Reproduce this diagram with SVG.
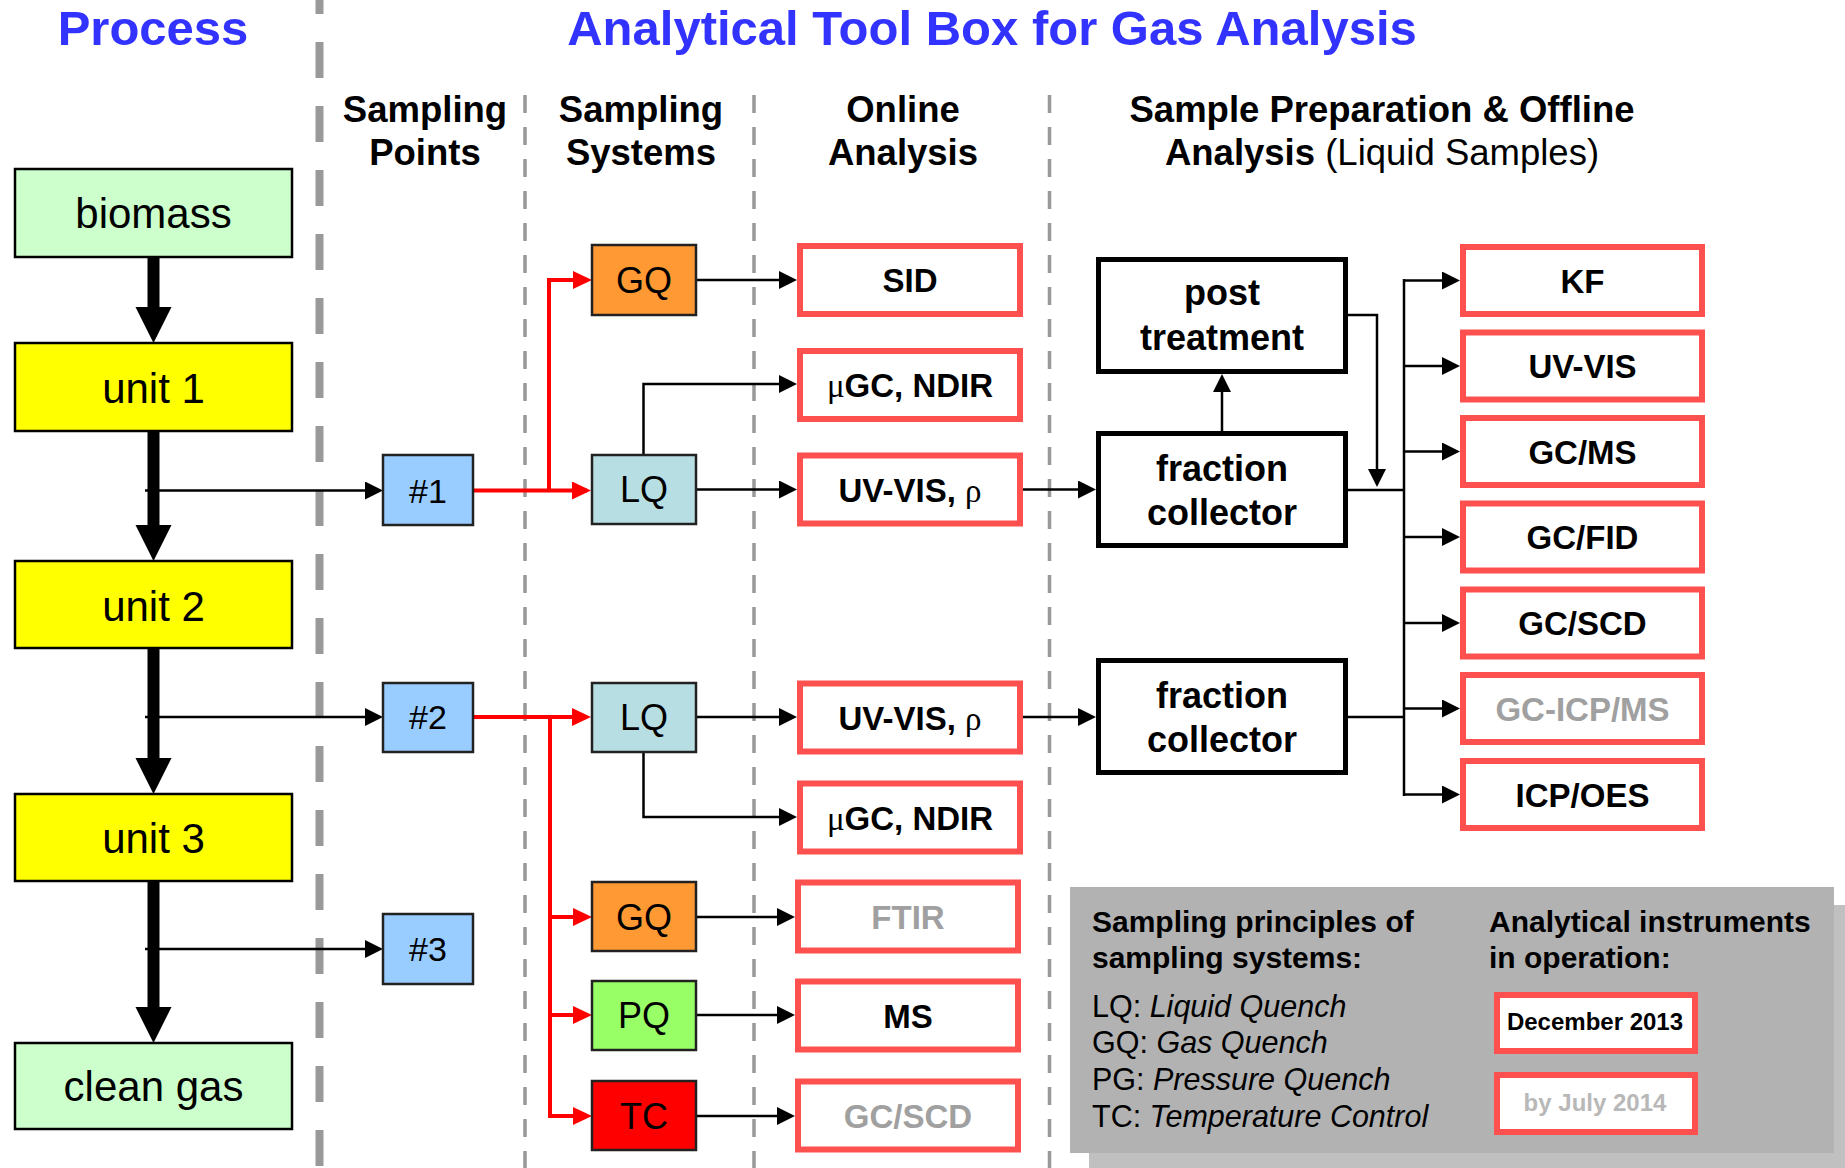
<svg xmlns="http://www.w3.org/2000/svg" width="1845" height="1168" viewBox="0 0 1845 1168">
<defs>
<style>
text{font-family:"Liberation Sans",Arial,sans-serif;}
.title{font-size:49px;font-weight:bold;fill:#3333ff;text-anchor:middle;}
.hdr{font-size:36.5px;font-weight:bold;fill:#000;text-anchor:middle;}
.proc{font-size:42px;fill:#000;text-anchor:middle;}
.pt{font-size:34px;fill:#000;text-anchor:middle;}
.sys{font-size:36px;fill:#000;text-anchor:middle;}
.ana{font-size:33px;font-weight:bold;fill:#000;text-anchor:middle;}
.grey{fill:#a0a0a0;}
.fc{font-size:36px;font-weight:bold;fill:#000;text-anchor:middle;}
.leg{font-size:30.5px;fill:#000;}
.legb{font-size:30px;font-weight:bold;fill:#000;}
.sym{font-family:"Liberation Serif",serif;font-weight:normal;}
.pbox{stroke:#000;stroke-width:2.5;}
.sbox{stroke:#222;stroke-width:2.5;}
.abox{fill:#fff;stroke:#ff5050;stroke-width:6;}
.tbox{fill:#fff;stroke:#000;stroke-width:5;}
.thin{fill:none;stroke:#000;stroke-width:2.5;}
.red{fill:none;stroke:#ff0000;stroke-width:4;}
.gd{stroke:#999;fill:none;}
</style>
<marker id="ab" markerUnits="userSpaceOnUse" markerWidth="18" markerHeight="18" refX="14" refY="9" orient="auto"><path d="M0,0 L18,9 L0,18 z" fill="#000"/></marker>
<marker id="ar" markerUnits="userSpaceOnUse" markerWidth="19" markerHeight="18" refX="15" refY="9" orient="auto"><path d="M0,0 L19,9 L0,18 z" fill="#ff0000"/></marker>
</defs>
<rect width="1845" height="1168" fill="#fff"/>

<g id="grid">
<line class="gd" x1="319.5" y1="-22" x2="319.5" y2="1168" stroke-width="8" stroke-dasharray="36 28"/>
<line class="gd" x1="525" y1="95" x2="525" y2="1168" stroke-width="3.5" stroke-dasharray="18 14"/>
<line class="gd" x1="754" y1="95" x2="754" y2="1168" stroke-width="3.5" stroke-dasharray="18 14"/>
<line class="gd" x1="1049.5" y1="95" x2="1049.5" y2="1168" stroke-width="3.5" stroke-dasharray="18 14"/>
</g>

<g id="titles">
<text class="title" x="153" y="45">Process</text>
<text class="title" x="992" y="45">Analytical Tool Box for Gas Analysis</text>
<text class="hdr" x="425" y="122">Sampling</text>
<text class="hdr" x="425" y="165">Points</text>
<text class="hdr" x="641" y="122">Sampling</text>
<text class="hdr" x="641" y="165">Systems</text>
<text class="hdr" x="903" y="122">Online</text>
<text class="hdr" x="903" y="165">Analysis</text>
<text class="hdr" x="1382" y="122">Sample Preparation &amp; Offline</text>
<text class="hdr" x="1382" y="165">Analysis <tspan font-weight="normal">(Liquid Samples)</tspan></text>
</g>

<g id="connectors">
<g id="process-flow" fill="#000">
<rect x="147.5" y="257" width="12" height="52"/>
<polygon points="135.5,307 171.5,307 153.5,343"/>
<rect x="147.5" y="431" width="12" height="96"/>
<polygon points="135.5,525 171.5,525 153.5,561"/>
<rect x="147.5" y="648" width="12" height="112"/>
<polygon points="135.5,758 171.5,758 153.5,794"/>
<rect x="147.5" y="881" width="12" height="128"/>
<polygon points="135.5,1007 171.5,1007 153.5,1043"/>
</g>
<path class="thin" d="M145,490.5 H379" marker-end="url(#ab)"/>
<path class="thin" d="M145,717 H379" marker-end="url(#ab)"/>
<path class="thin" d="M145,949 H379" marker-end="url(#ab)"/>

<path class="red" d="M473,490.5 H587" marker-end="url(#ar)"/>
<path class="red" d="M549,490.5 V280 H588" marker-end="url(#ar)"/>
<path class="red" d="M473,717 H587" marker-end="url(#ar)"/>
<path class="red" d="M550,717 V1116 H588" marker-end="url(#ar)"/>
<path class="red" d="M550,917 H588" marker-end="url(#ar)"/>
<path class="red" d="M550,1015 H588" marker-end="url(#ar)"/>

<path class="thin" d="M696,280 H793" marker-end="url(#ab)"/>
<path class="thin" d="M643.5,455 V384 H793" marker-end="url(#ab)"/>
<path class="thin" d="M696,489.5 H793" marker-end="url(#ab)"/>
<path class="thin" d="M1023,489.5 H1092" marker-end="url(#ab)"/>
<path class="thin" d="M696,717 H793" marker-end="url(#ab)"/>
<path class="thin" d="M643.5,752 V817 H793" marker-end="url(#ab)"/>
<path class="thin" d="M696,917 H791" marker-end="url(#ab)"/>
<path class="thin" d="M696,1015 H791" marker-end="url(#ab)"/>
<path class="thin" d="M696,1116 H791" marker-end="url(#ab)"/>
<path class="thin" d="M1023,717 H1092" marker-end="url(#ab)"/>

<path class="thin" d="M1222,431 V378" marker-end="url(#ab)"/>
<path class="thin" stroke-width="2" d="M1348,315 H1377 V483" marker-end="url(#ab)"/>
<path class="thin" stroke-width="3.5" d="M1348,490 H1404 M1348,717 H1404 M1404,279 V796"/>
<path class="thin" d="M1404,280.5 H1456" marker-end="url(#ab)"/>
<path class="thin" d="M1404,366 H1456" marker-end="url(#ab)"/>
<path class="thin" d="M1404,451.5 H1456" marker-end="url(#ab)"/>
<path class="thin" d="M1404,537 H1456" marker-end="url(#ab)"/>
<path class="thin" d="M1404,623 H1456" marker-end="url(#ab)"/>
<path class="thin" d="M1404,708.5 H1456" marker-end="url(#ab)"/>
<path class="thin" d="M1404,794.5 H1456" marker-end="url(#ab)"/>
</g>

<g id="biomass"><rect class="pbox" x="15" y="169" width="277" height="88" fill="#ccffcc"/><text class="proc" x="153.5" y="228">biomass</text></g>
<g id="unit1"><rect class="pbox" x="15" y="343" width="277" height="88" fill="#ffff00"/><text class="proc" x="153.5" y="403">unit 1</text></g>
<g id="unit2"><rect class="pbox" x="15" y="561" width="277" height="87" fill="#ffff00"/><text class="proc" x="153.5" y="621">unit 2</text></g>
<g id="unit3"><rect class="pbox" x="15" y="794" width="277" height="87" fill="#ffff00"/><text class="proc" x="153.5" y="853">unit 3</text></g>
<g id="cleangas"><rect class="pbox" x="15" y="1043" width="277" height="86" fill="#ccffcc"/><text class="proc" x="153.5" y="1101">clean gas</text></g>

<g id="sp1"><rect class="sbox" x="383" y="455" width="90" height="70" fill="#99ccff"/><text class="pt" x="428" y="503">#1</text></g>
<g id="sp2"><rect class="sbox" x="383" y="683" width="90" height="69" fill="#99ccff"/><text class="pt" x="428" y="729">#2</text></g>
<g id="sp3"><rect class="sbox" x="383" y="914" width="90" height="70" fill="#99ccff"/><text class="pt" x="428" y="961">#3</text></g>

<g id="gq1"><rect class="sbox" x="592" y="245" width="104" height="70" fill="#ff9933"/><text class="sys" x="644" y="293">GQ</text></g>
<g id="lq1"><rect class="sbox" x="592" y="455" width="104" height="69" fill="#b7dfe3"/><text class="sys" x="644" y="502">LQ</text></g>
<g id="lq2"><rect class="sbox" x="592" y="683" width="104" height="69" fill="#b7dfe3"/><text class="sys" x="644" y="730">LQ</text></g>
<g id="gq2"><rect class="sbox" x="592" y="882" width="104" height="69" fill="#ff9933"/><text class="sys" x="644" y="930">GQ</text></g>
<g id="pq"><rect class="sbox" x="592" y="981" width="104" height="69" fill="#99ff66"/><text class="sys" x="644" y="1028">PQ</text></g>
<g id="tc"><rect class="sbox" x="592" y="1081" width="104" height="69" fill="#ff0000"/><text class="sys" x="644" y="1129">TC</text></g>

<g id="sid"><rect class="abox" x="800" y="246" width="220" height="68"/><text class="ana" x="910" y="292">SID</text></g>
<g id="ugc1"><rect class="abox" x="800" y="351" width="220" height="68"/><text class="ana" x="910" y="397"><tspan class="sym">μ</tspan>GC, NDIR</text></g>
<g id="uv1"><rect class="abox" x="800" y="455.5" width="220" height="68"/><text class="ana" x="910" y="501.5">UV-VIS, <tspan class="sym">ρ</tspan></text></g>
<g id="uv2"><rect class="abox" x="800" y="683.5" width="220" height="68"/><text class="ana" x="910" y="729.5">UV-VIS, <tspan class="sym">ρ</tspan></text></g>
<g id="ugc2"><rect class="abox" x="800" y="783.5" width="220" height="68"/><text class="ana" x="910" y="829.5"><tspan class="sym">μ</tspan>GC, NDIR</text></g>
<g id="ftir"><rect class="abox" x="798" y="882.5" width="220" height="68"/><text class="ana grey" x="908" y="928.5">FTIR</text></g>
<g id="ms"><rect class="abox" x="798" y="981.5" width="220" height="68"/><text class="ana" x="908" y="1027.5">MS</text></g>
<g id="gcscd1"><rect class="abox" x="798" y="1081.5" width="220" height="68"/><text class="ana grey" x="908" y="1127.5">GC/SCD</text></g>

<g id="post"><rect class="tbox" x="1098.5" y="259.5" width="247" height="112"/><text class="fc" x="1222" y="305">post</text><text class="fc" x="1222" y="350">treatment</text></g>
<g id="fc1"><rect class="tbox" x="1098.5" y="433.5" width="247" height="112"/><text class="fc" x="1222" y="481">fraction</text><text class="fc" x="1222" y="525">collector</text></g>
<g id="fc2"><rect class="tbox" x="1098.5" y="660.5" width="247" height="112"/><text class="fc" x="1222" y="708">fraction</text><text class="fc" x="1222" y="752">collector</text></g>

<g id="kf"><rect class="abox" x="1463" y="247" width="239" height="67"/><text class="ana" x="1582.5" y="292.5">KF</text></g>
<g id="uvvis"><rect class="abox" x="1463" y="332.5" width="239" height="67"/><text class="ana" x="1582.5" y="378">UV-VIS</text></g>
<g id="gcms"><rect class="abox" x="1463" y="418" width="239" height="67"/><text class="ana" x="1582.5" y="463.5">GC/MS</text></g>
<g id="gcfid"><rect class="abox" x="1463" y="503.5" width="239" height="67"/><text class="ana" x="1582.5" y="549">GC/FID</text></g>
<g id="gcscd2"><rect class="abox" x="1463" y="589.5" width="239" height="67"/><text class="ana" x="1582.5" y="635">GC/SCD</text></g>
<g id="gcicpms"><rect class="abox" x="1463" y="675" width="239" height="67"/><text class="ana grey" x="1582.5" y="720.5">GC-ICP/MS</text></g>
<g id="icpoes"><rect class="abox" x="1463" y="761" width="239" height="67"/><text class="ana" x="1582.5" y="806.5">ICP/OES</text></g>

<g id="legend">
<rect x="1089" y="905" width="760" height="270" fill="#c0c0c0"/>
<rect x="1070" y="887" width="764" height="266" fill="#b2b2b2"/>
<text class="legb" x="1092" y="932">Sampling principles of</text>
<text class="legb" x="1092" y="968">sampling systems:</text>
<text class="leg" x="1092" y="1017">LQ: <tspan font-style="italic">Liquid Quench</tspan></text>
<text class="leg" x="1092" y="1053">GQ: <tspan font-style="italic">Gas Quench</tspan></text>
<text class="leg" x="1092" y="1090">PG: <tspan font-style="italic">Pressure Quench</tspan></text>
<text class="leg" x="1092" y="1127">TC: <tspan font-style="italic">Temperature Control</tspan></text>
<text class="legb" x="1489" y="932">Analytical instruments</text>
<text class="legb" x="1489" y="968">in operation:</text>
<rect class="abox" x="1497" y="995" width="198" height="56"/>
<text x="1595" y="1030" font-size="24" font-weight="bold" text-anchor="middle" fill="#000">December 2013</text>
<rect class="abox" x="1497" y="1075" width="198" height="57"/>
<text x="1595" y="1111" font-size="24" font-weight="bold" text-anchor="middle" fill="#b8b8b8">by July 2014</text>
</g>
</svg>
